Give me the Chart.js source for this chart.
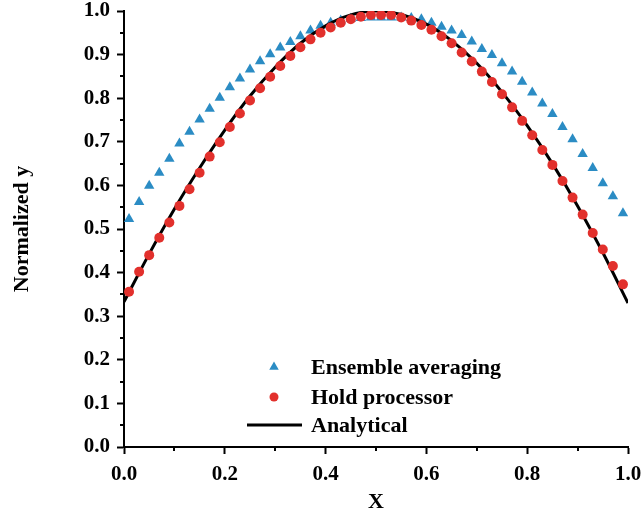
<!DOCTYPE html>
<html>
<head>
<meta charset="utf-8">
<script src="https://cdn.jsdelivr.net/npm/chart.js@4.4.1/dist/chart.umd.min.js"></script>
<style>
    body { margin: 0; background: #fff; }
</style>
</head>
<body>
<canvas id="chart" width="641" height="520"></canvas>
<script>
// sample positions shared by both simulated series
const xPoints = [0.01, 0.03, 0.05, 0.07, 0.09, 0.11, 0.13, 0.15, 0.17, 0.19,
    0.21, 0.23, 0.25, 0.27, 0.29, 0.31, 0.33, 0.35, 0.37, 0.39,
    0.41, 0.43, 0.45, 0.47, 0.49, 0.51, 0.53, 0.55, 0.57, 0.59,
    0.61, 0.63, 0.65, 0.67, 0.69, 0.71, 0.73, 0.75, 0.77, 0.79,
    0.81, 0.83, 0.85, 0.87, 0.89, 0.91, 0.93, 0.95, 0.97, 0.99];

const ensembleY = [0.523, 0.562, 0.599, 0.629, 0.661, 0.696, 0.723, 0.751, 0.776, 0.801,
    0.825, 0.845, 0.866, 0.885, 0.901, 0.916, 0.929, 0.942, 0.955, 0.966,
    0.973, 0.978, 0.982, 0.984, 0.985, 0.985, 0.985, 0.985, 0.984, 0.981,
    0.973, 0.964, 0.955, 0.945, 0.930, 0.913, 0.899, 0.880, 0.861, 0.838,
    0.813, 0.788, 0.764, 0.734, 0.706, 0.672, 0.640, 0.605, 0.575, 0.536];

const holdY = [0.356, 0.402, 0.440, 0.480, 0.515, 0.553, 0.591, 0.629, 0.666, 0.699,
    0.734, 0.765, 0.795, 0.823, 0.849, 0.874, 0.897, 0.917, 0.935, 0.950,
    0.962, 0.973, 0.981, 0.987, 0.991, 0.991, 0.991, 0.985, 0.978, 0.968,
    0.957, 0.942, 0.926, 0.905, 0.884, 0.861, 0.837, 0.809, 0.779, 0.748,
    0.715, 0.681, 0.647, 0.610, 0.572, 0.533, 0.491, 0.453, 0.415, 0.373];

const analyticalX = [0, 0.05, 0.1, 0.15, 0.2, 0.25, 0.3, 0.35, 0.4, 0.45, 0.5,
    0.55, 0.6, 0.65, 0.7, 0.75, 0.8, 0.85, 0.9, 0.95, 1.0];
const analyticalY = [0.333, 0.443, 0.546, 0.640, 0.727, 0.805, 0.871, 0.926, 0.966, 0.991, 1.000,
    0.992, 0.970, 0.932, 0.880, 0.814, 0.737, 0.650, 0.553, 0.446, 0.330];

const seriesLabels = ['Ensemble averaging', 'Hold processor', 'Analytical'];

const FONT = 'Liberation Serif';
const blue = '#2b8cc4';
const red = '#e2302c';

// minor ticks, Chart.js has none of its own
const minorTicks = {
    id: 'minorTicks',
    afterDraw(chart) {
        const ctx = chart.ctx;
        const xs = chart.scales.x, ys = chart.scales.y;
        const area = chart.chartArea;
        ctx.save();
        ctx.strokeStyle = '#000';
        ctx.lineWidth = 2;
        ctx.beginPath();
        for (let v = 0.05; v < 1; v += 0.1) {
            const py = Math.round(ys.getPixelForValue(v));
            ctx.moveTo(area.left - 4, py);
            ctx.lineTo(area.left, py);
        }
        for (let v = 0.1; v < 1; v += 0.2) {
            const px = Math.round(xs.getPixelForValue(v));
            ctx.moveTo(px, area.bottom);
            ctx.lineTo(px, area.bottom + 4);
        }
        ctx.stroke();
        ctx.restore();
    }
};

// legend sits inside the plot area
const innerLegend = {
    id: 'innerLegend',
    afterDraw(chart) {
        const ctx = chart.ctx;
        const area = chart.chartArea;
        const mx = area.left + 150;
        const tx = area.left + 187;
        const rows = [area.top + 356, area.top + 386, area.top + 414];
        ctx.save();
        ctx.fillStyle = blue;
        Chart.helpers.drawPoint(ctx, { pointStyle: 'triangle', radius: 5.5, rotation: 0, borderWidth: 0 }, mx, rows[0]);
        ctx.fillStyle = red;
        Chart.helpers.drawPoint(ctx, { pointStyle: 'circle', radius: 4.5, rotation: 0, borderWidth: 0 }, mx, rows[1]);
        ctx.strokeStyle = '#000';
        ctx.lineWidth = 3;
        ctx.beginPath();
        ctx.moveTo(mx - 27, rows[2]);
        ctx.lineTo(mx + 28, rows[2]);
        ctx.stroke();
        ctx.fillStyle = '#000';
        ctx.font = 'bold 22px "' + FONT + '"';
        ctx.textBaseline = 'middle';
        seriesLabels.forEach((t, i) => ctx.fillText(t, tx, rows[i] + 1));
        ctx.restore();
    }
};

const ctx = document.getElementById('chart').getContext('2d');

new Chart(ctx, {
    type: 'scatter',
    data: {
        datasets: [
            {
                label: seriesLabels[0],
                data: xPoints.map((x, i) => ({ x: x, y: ensembleY[i] })),
                pointStyle: 'triangle',
                pointRadius: 6,
                pointBackgroundColor: blue,
                pointBorderWidth: 0,
                order: 3
            },
            {
                label: seriesLabels[2],
                type: 'line',
                data: analyticalX.map((x, i) => ({ x: x, y: analyticalY[i] })),
                borderColor: '#000',
                borderWidth: 3,
                pointRadius: 0,
                fill: false,
                cubicInterpolationMode: 'monotone',
                order: 2
            },
            {
                label: seriesLabels[1],
                data: xPoints.map((x, i) => ({ x: x, y: holdY[i] })),
                pointStyle: 'circle',
                pointRadius: 5,
                pointBackgroundColor: red,
                pointBorderWidth: 0,
                order: 1
            }
        ]
    },
    options: {
        responsive: false,
        animation: false,
        layout: { padding: { top: 11, right: 13, left: 0, bottom: 0 } },
        plugins: {
            legend: { display: false },
            tooltip: { enabled: false }
        },
        scales: {
            x: {
                type: 'linear',
                min: 0,
                max: 1,
                afterFit: s => { s.height = 73; s.paddingLeft = 0; s.paddingRight = 0; },
                border: { color: '#000', width: 2 },
                grid: { drawOnChartArea: false, drawTicks: true, tickLength: 7, tickColor: '#000', tickWidth: 2 },
                ticks: {
                    stepSize: 0.2,
                    padding: 8,
                    color: '#000',
                    font: { family: FONT, size: 21, weight: 'bold' },
                    callback: v => v.toFixed(1)
                },
                title: {
                    display: true,
                    text: 'X',
                    color: '#000',
                    padding: { bottom: 4 },
                    font: { family: FONT, size: 22, weight: 'bold' }
                }
            },
            y: {
                min: 0,
                max: 1,
                afterFit: s => { s.width = 124; s.paddingTop = 0; s.paddingBottom = 0; },
                border: { color: '#000', width: 2 },
                grid: { drawOnChartArea: false, drawTicks: true, tickLength: 7, tickColor: '#000', tickWidth: 2 },
                ticks: {
                    stepSize: 0.1,
                    padding: 7,
                    color: '#000',
                    font: { family: FONT, size: 21, weight: 'bold' },
                    callback: v => v.toFixed(1)
                },
                title: {
                    display: true,
                    text: 'Normalized y',
                    color: '#000',
                    padding: { top: 9 },
                    font: { family: FONT, size: 22, weight: 'bold' }
                }
            }
        }
    },
    plugins: [minorTicks, innerLegend]
});
</script>
</body>
</html>
